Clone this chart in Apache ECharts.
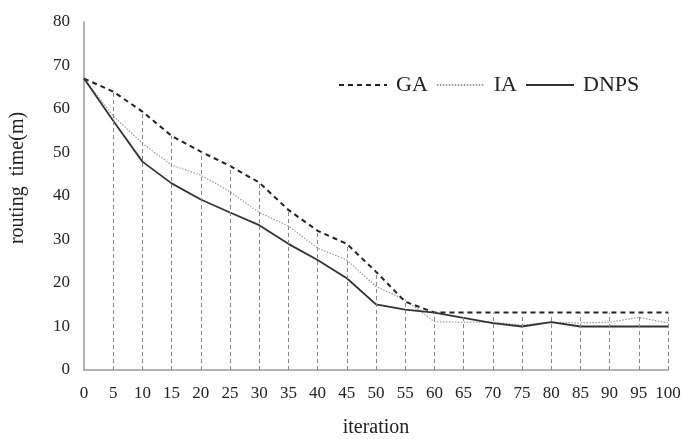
<!DOCTYPE html>
<html><head><meta charset="utf-8">
<script src="https://cdn.jsdelivr.net/npm/echarts@6/dist/echarts.min.js"></script>
<style>html,body{margin:0;padding:0;background:#fff}#c{width:681px;height:439px}</style>
</head><body><div id="c"></div>
<script>
var iterations = [0,5,10,15,20,25,30,35,40,45,50,55,60,65,70,75,80,85,90,95,100];
var GA   = [67,64,59.4,53.8,50.2,46.9,43.1,36.8,32,29,22.6,15.7,13.2,13.2,13.2,13.2,13.2,13.2,13.2,13.2,13.2];
var IA   = [67,58.4,52.1,47.1,44.8,41,36.2,33.1,28,25.3,19.2,16.1,11.1,11,11,10.3,11,10.8,11,12.1,10.8];
var DNPS = [67,57.3,47.9,42.9,39.2,36.2,33.3,29,25.3,21.1,15.1,13.9,13.2,12,10.8,10,11,10,10,10,10];
var yTicks = {min:0, max:80, interval:10};
var xTicks = {min:0, max:100, interval:5};

function pairs(v){ return iterations.map(function(x,i){ return [x, v[i]]; }); }
var drops = [];
iterations.forEach(function(x,i){ if (x > 0) drops.push([{coord:[x,0]},{coord:[x,GA[i]]}]); });

var serif = 'Liberation Serif';
var chart = echarts.init(document.getElementById('c'));
chart.setOption({
  animation:false,
  backgroundColor:'#fff',
  grid:{left:84,right:13,top:22,bottom:69,containLabel:false,outerBoundsMode:'none'},
  legend:{
    top:69, left:333, itemWidth:48, itemHeight:12, itemGap:8,
    itemStyle:{opacity:0},
    textStyle:{fontFamily:serif,fontSize:22,color:'#222',padding:[0,0,0,4]},
    data:['GA','IA','DNPS']
  },
  xAxis:{
    type:'value', min:xTicks.min, max:xTicks.max, interval:xTicks.interval,
    name:'iteration', nameLocation:'middle', nameGap:48,
    nameTextStyle:{fontFamily:serif,fontSize:20,color:'#222'},
    axisLine:{lineStyle:{color:'#999',width:1.5}},
    axisTick:{show:false}, splitLine:{show:false},
    axisLabel:{fontFamily:serif,fontSize:17,color:'#222',margin:15}
  },
  yAxis:{
    type:'value', min:yTicks.min, max:yTicks.max, interval:yTicks.interval,
    name:'routing  time(m)', nameLocation:'middle', nameGap:56,
    nameTextStyle:{fontFamily:serif,fontSize:20,color:'#222',padding:[0,0,0,36]},
    axisLine:{show:true,lineStyle:{color:'#999',width:1.5}},
    axisTick:{show:false}, splitLine:{show:false},
    axisLabel:{fontFamily:serif,fontSize:17,color:'#222',margin:14}
  },
  series:[
    {name:'GA', type:'line', data:pairs(GA), showSymbol:false, symbol:'none',
     lineStyle:{color:'#222',width:2,type:[5,4]}, itemStyle:{color:'#222'}, z:3,
     markLine:{silent:true, symbol:'none', label:{show:false},
       lineStyle:{color:'#888',width:1,type:[4,3]}, data:drops}},
    {name:'IA', type:'line', data:pairs(IA), showSymbol:false, symbol:'none',
     lineStyle:{color:'#999',width:1.2,type:[1.5,1.5]}, itemStyle:{color:'#999'}, z:2},
    {name:'DNPS', type:'line', data:pairs(DNPS), showSymbol:false, symbol:'none',
     lineStyle:{color:'#333',width:1.8}, itemStyle:{color:'#333'}, z:4}
  ]
});
</script></body></html>
